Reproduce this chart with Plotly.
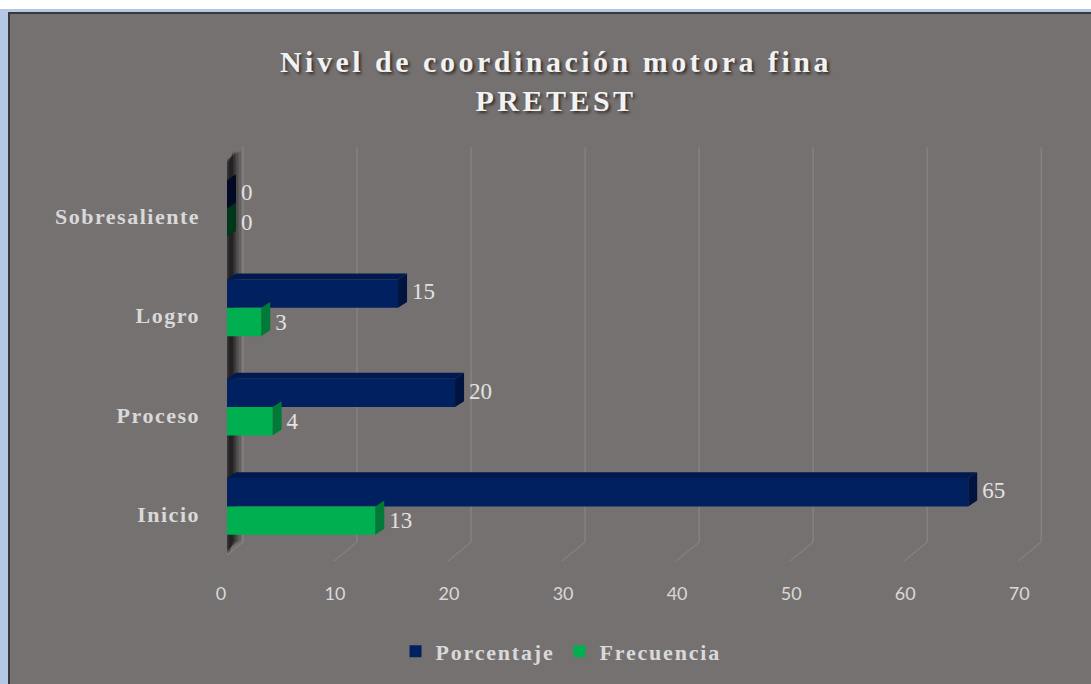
import plotly.graph_objects as go

categories = ["Inicio", "Proceso", "Logro", "Sobresaliente"]
porcentaje = [65, 20, 15, 0]
frecuencia = [13, 4, 3, 0]
x_ticks = [0, 10, 20, 30, 40, 50, 60, 70]

W, H = 1091, 684
PX_PER_UNIT = 798 / 70
xr = [0, 72]
L, T, B = 227, 147, 120
PW = round((xr[1] - xr[0]) * PX_PER_UNIT)
R = W - L - PW
PH = H - T - B

NAVY, NAVY_SIDE, NAVY_TOP = "#002060", "#00143f", "#001a50"
GREEN, GREEN_SIDE = "#00B050", "#007a36"
ZERO_NAVY, ZERO_GREEN = "#000a24", "#00361a"
TXT = "#e3e2e2"
SERIF = "Liberation Serif, Times New Roman, serif"

yr = [-0.55, 3.62]
ux = (xr[1] - xr[0]) / PW   # data units per px
uy = (yr[1] - yr[0]) / PH

BAR_H = 0.285
DX, DY = 9 * ux, 6 * uy          # bar depth
LBL_DX = 14 * ux
BACK_DX, FRONT_DX = 16 * ux, -7 * ux
BACK_Y, FRONT_Y = yr[0] + 19 * uy, yr[0]


def pxx(p):
    return (p - L) / PW


def pxy(p):
    return (H - B - p) / PH


def path(pts):
    return "M " + " L ".join(f"{x},{y}" for x, y in pts) + " Z"


shapes = [
    dict(type="rect", xref="paper", yref="paper", layer="below",
         x0=pxx(0), x1=pxx(W + 5), y0=pxy(8), y1=pxy(H + 5),
         fillcolor="#b4c7e7", line=dict(width=0)),
    dict(type="rect", xref="paper", yref="paper", layer="below",
         x0=pxx(9), x1=pxx(W + 10), y0=pxy(12), y1=pxy(H + 10),
         fillcolor="#767171", line=dict(color="#3a3838", width=2)),
]

# 3D gridlines (back vertical + diagonal to front)
for v in x_ticks:
    shapes.append(dict(
        type="path", xref="x", yref="y", layer="below",
        path=f"M {v + BACK_DX},{yr[1]} L {v + BACK_DX},{BACK_Y} L {v + FRONT_DX},{FRONT_Y}",
        line=dict(color="#8d8989", width=1)))

# left wall shadow
for (x0, x1, a) in [(-0.55, 1.25, 0.15), (-0.3, 1.0, 0.22), (-0.05, 0.75, 0.3), (0.15, 0.55, 0.35)]:
    shapes.append(dict(
        type="path", xref="x", yref="y", layer="below",
        path=path([(x0, 3.46), (x1, 3.58), (x1, BACK_Y + 0.02), (x0, FRONT_Y + 0.07)]),
        fillcolor=f"rgba(0,0,0,{a})", line=dict(width=0)))

fig = go.Figure()

idx = list(range(len(categories)))
y_p = [i + BAR_H / 2 for i in idx]
y_f = [i - BAR_H / 2 for i in idx]

sp = lambda s, n=2: f"<span style='letter-spacing:{n}px'>{s}</span>"

fig.add_trace(go.Bar(name=sp("Porcentaje", 1.8), y=y_p, x=porcentaje, orientation="h",
                     width=BAR_H, marker=dict(color=NAVY, line=dict(width=0)),
                     hoverinfo="skip"))
fig.add_trace(go.Bar(name=sp("Frecuencia", 1.8), y=y_f, x=frecuencia, orientation="h",
                     width=BAR_H, marker=dict(color=GREEN, line=dict(width=0)),
                     hoverinfo="skip"))


def faces(vals, ys, side_col, top_col, zero_col, with_top):
    for v, yc in zip(vals, ys):
        top, bot = yc + BAR_H / 2, yc - BAR_H / 2
        if with_top and v > 0:
            fig.add_trace(go.Scatter(
                x=[0, v, v + DX, DX, 0], y=[top, top, top + DY, top + DY, top],
                mode="lines", fill="toself", fillcolor=top_col, line=dict(width=0),
                showlegend=False, hoverinfo="skip"))
        fig.add_trace(go.Scatter(
            x=[v, v, v + DX, v + DX, v], y=[bot, top, top + DY, bot + DY, bot],
            mode="lines", fill="toself", fillcolor=side_col if v > 0 else zero_col,
            line=dict(width=0), showlegend=False, hoverinfo="skip"))


faces(frecuencia, y_f, GREEN_SIDE, GREEN_SIDE, ZERO_GREEN, False)
faces(porcentaje, y_p, NAVY_SIDE, NAVY_TOP, ZERO_NAVY, True)

# data labels
fig.add_trace(go.Scatter(
    x=[v + LBL_DX for v in porcentaje], y=y_p, mode="text",
    text=[str(v) for v in porcentaje], textposition="middle right",
    textfont=dict(family=SERIF, size=23, color=TXT),
    showlegend=False, hoverinfo="skip"))
fig.add_trace(go.Scatter(
    x=[v + LBL_DX for v in frecuencia], y=[y - 0.02 for y in y_f], mode="text",
    text=[str(v) for v in frecuencia], textposition="middle right",
    textfont=dict(family=SERIF, size=23, color=TXT),
    showlegend=False, hoverinfo="skip"))

fig.update_layout(
    width=W, height=H,
    margin=dict(l=L, r=R, t=T, b=B),
    paper_bgcolor="white", plot_bgcolor="rgba(0,0,0,0)",
    barmode="overlay",
    title=dict(
        text="<b>" + sp("Nivel de coordinación motora fina", 3.5) + "</b><br><b>" + sp("PRETEST", 3.5) + "</b>",
        x=556 / W, xanchor="center", xref="container",
        y=1 - 72 / H, yanchor="middle", yref="container",
        font=dict(family=SERIF, size=30, color="#f2f2f2",
                  shadow="2px 2px 3px rgba(0,0,0,0.6)")),
    xaxis=dict(range=xr, tickvals=x_ticks, showgrid=False, zeroline=False,
               showline=False, ticks="", ticklabelshift=-6, ticklabelstandoff=20,
               tickfont=dict(family="Lato, Open Sans, sans-serif", size=18, color="#d9d9d9"),
               fixedrange=True),
    yaxis=dict(range=yr, tickvals=[i - 0.08 for i in idx],
               ticktext=["<b>" + sp(c, 1.5) + "</b>" for c in categories],
               showgrid=False, zeroline=False, showline=False, ticks="",
               ticklabelstandoff=26,
               tickfont=dict(family=SERIF, size=22, color="#d9d9d9"),
               fixedrange=True),
    legend=dict(orientation="h", x=pxx(561), xanchor="center", y=pxy(655), yanchor="middle",
                font=dict(family=SERIF, size=22, color="#d9d9d9", weight="bold"),
                bgcolor="rgba(0,0,0,0)", itemwidth=30, traceorder="normal"),
    shapes=shapes,
    showlegend=True,
)

fig.write_html("out.html", config={"displayModeBar": False},
               post_script="document.body.style.margin='0px';")
